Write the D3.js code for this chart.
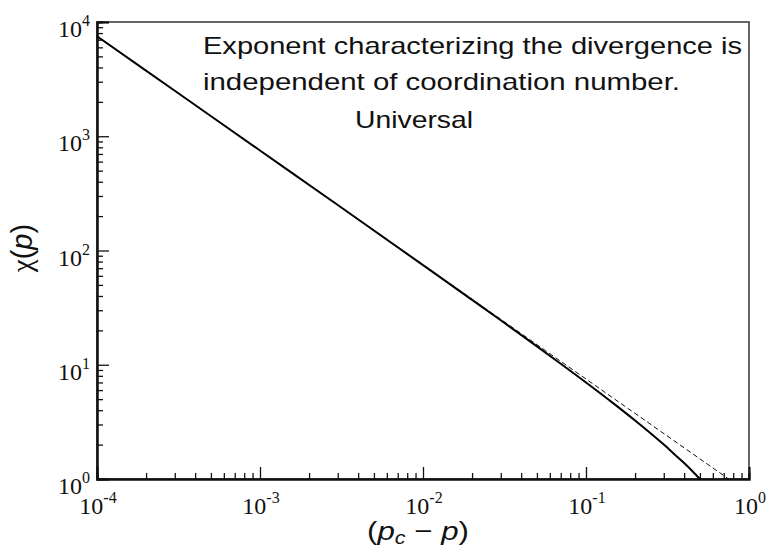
<!DOCTYPE html>
<html>
<head>
<meta charset="utf-8">
<script src="https://cdn.jsdelivr.net/npm/d3@7"></script>
<style>
  html, body { margin: 0; padding: 0; background: #fff; }
  svg { display: block; }
</style>
</head>
<body>
<svg id="chart" width="770" height="548"></svg>
<script>
// Mean cluster size chi(p) against distance from the threshold (p_c - p)
const xSolid   = [0.0001, 0.0003, 0.001, 0.003, 0.01, 0.02, 0.03, 0.05, 0.07, 0.1, 0.15, 0.2, 0.25, 0.3, 0.35, 0.4, 0.45, 0.5];
const chiSolid = [7500, 2500, 750, 250, 74.5, 37, 24.5, 14.5, 10.2, 7, 4.5, 3.25, 2.5, 2, 1.64, 1.38, 1.17, 1];

// Pure power-law asymptote
const xDashed   = [0.0001, 0.001, 0.01, 0.1, 0.75];
const chiDashed = [7500, 750, 75, 7.5, 1];

// Axis decades (exponents of ten)
const xExponents = [-4, -3, -2, -1, 0];
const yExponents = [0, 1, 2, 3, 4];

const noteLines = [
  "Exponent characterizing the divergence is",
  "independent of coordination number.",
  "Universal"
];

const svg = d3.select("#chart");
const L = 97, R = 749, T = 22, B = 479;

const x = d3.scaleLog().domain([1e-4, 1]).range([L, R]);
const y = d3.scaleLog().domain([1, 1e4]).range([B, T]);

// minor ticks: 2..9 within each decade
function minors(exps) {
  const out = [];
  for (let i = 0; i < exps.length - 1; i++) {
    for (let k = 2; k <= 9; k++) out.push(k * Math.pow(10, exps[i]));
  }
  return out;
}
const xMajor = xExponents.map(e => Math.pow(10, e));
const yMajor = yExponents.map(e => Math.pow(10, e));

// frame
svg.append("rect")
  .attr("x", L).attr("y", T).attr("width", R - L).attr("height", B - T)
  .attr("fill", "none").attr("stroke", "#333").attr("stroke-width", 1.5);

// bottom axis: major and minor ticks pointing inward
const gx = svg.append("g").attr("transform", `translate(0,${B})`);
gx.append("g").call(d3.axisBottom(x).tickValues(xMajor).tickSize(-12).tickFormat(""));
gx.append("g").call(d3.axisBottom(x).tickValues(minors(xExponents)).tickSize(-6).tickFormat(""));
gx.selectAll(".domain").attr("stroke", "#111").attr("stroke-width", 2);
gx.selectAll(".tick line").attr("stroke", "#111").attr("stroke-width", 1.3);

// left axis
const gy = svg.append("g").attr("transform", `translate(${L},0)`);
gy.append("g").call(d3.axisLeft(y).tickValues(yMajor).tickSize(-12).tickFormat(""));
gy.append("g").call(d3.axisLeft(y).tickValues(minors(yExponents)).tickSize(-6).tickFormat(""));
gy.selectAll(".domain").attr("stroke", "#111").attr("stroke-width", 2);
gy.selectAll(".tick line").attr("stroke", "#111").attr("stroke-width", 1.3);

// power-of-ten labels
const serif = "'Liberation Serif', 'Times New Roman', serif";
function powLabel(g, e, px, py, anchor) {
  const t = g.append("text")
    .attr("x", px).attr("y", py)
    .attr("text-anchor", anchor)
    .attr("font-family", serif).attr("font-size", 24).attr("fill", "#111");
  t.append("tspan").text("10");
  t.append("tspan").attr("font-size", 16).attr("dy", -11).text(String(e));
}
const labels = svg.append("g");
xExponents.forEach(e => powLabel(labels, e, x(Math.pow(10, e)) + 1, 514, "middle"));
yExponents.forEach(e => powLabel(labels, e, 90, y(Math.pow(10, e)) + 15, "end"));

// curves
const line = d3.line().x(d => x(d[0])).y(d => y(d[1])).curve(d3.curveMonotoneX);

svg.append("path")
  .datum(xDashed.map((v, i) => [v, chiDashed[i]]))
  .attr("d", line)
  .attr("fill", "none").attr("stroke", "#111").attr("stroke-width", 1)
  .attr("stroke-dasharray", "5,3");

svg.append("path")
  .datum(xSolid.map((v, i) => [v, chiSolid[i]]))
  .attr("d", line)
  .attr("fill", "none").attr("stroke", "#000").attr("stroke-width", 2);

// annotation (wide-set sans text)
const sans = "'Liberation Sans', Arial, Helvetica, sans-serif";
const notePos = [[203, 54, 539], [203, 90, 477], [355, 128, 118]];
noteLines.forEach((s, i) => {
  svg.append("text")
    .attr("x", notePos[i][0]).attr("y", notePos[i][1])
    .attr("font-family", sans).attr("font-size", 24).attr("fill", "#111")
    .attr("textLength", notePos[i][2]).attr("lengthAdjust", "spacingAndGlyphs")
    .text(s);
});

// axis titles
const xt = svg.append("text")
  .attr("transform", "translate(418,540) scale(1.2,1)")
  .attr("text-anchor", "middle")
  .attr("font-family", sans).attr("font-size", 26).attr("fill", "#111");
xt.append("tspan").text("(");
xt.append("tspan").attr("font-style", "italic").text("p");
xt.append("tspan").attr("font-style", "italic").attr("font-size", 18).attr("dy", 4).text("c");
xt.append("tspan").attr("dy", -4).text(" \u2212 ");
xt.append("tspan").attr("font-style", "italic").text("p");
xt.append("tspan").text(")");

const yt = svg.append("text")
  .attr("transform", "translate(32,248) rotate(-90)")
  .attr("text-anchor", "middle")
  .attr("font-family", sans).attr("font-size", 29).attr("fill", "#111");
yt.append("tspan").attr("font-family", serif).text("\u03c7");
yt.append("tspan").text("(");
yt.append("tspan").attr("font-style", "italic").text("p");
yt.append("tspan").text(")");
</script>
</body>
</html>
